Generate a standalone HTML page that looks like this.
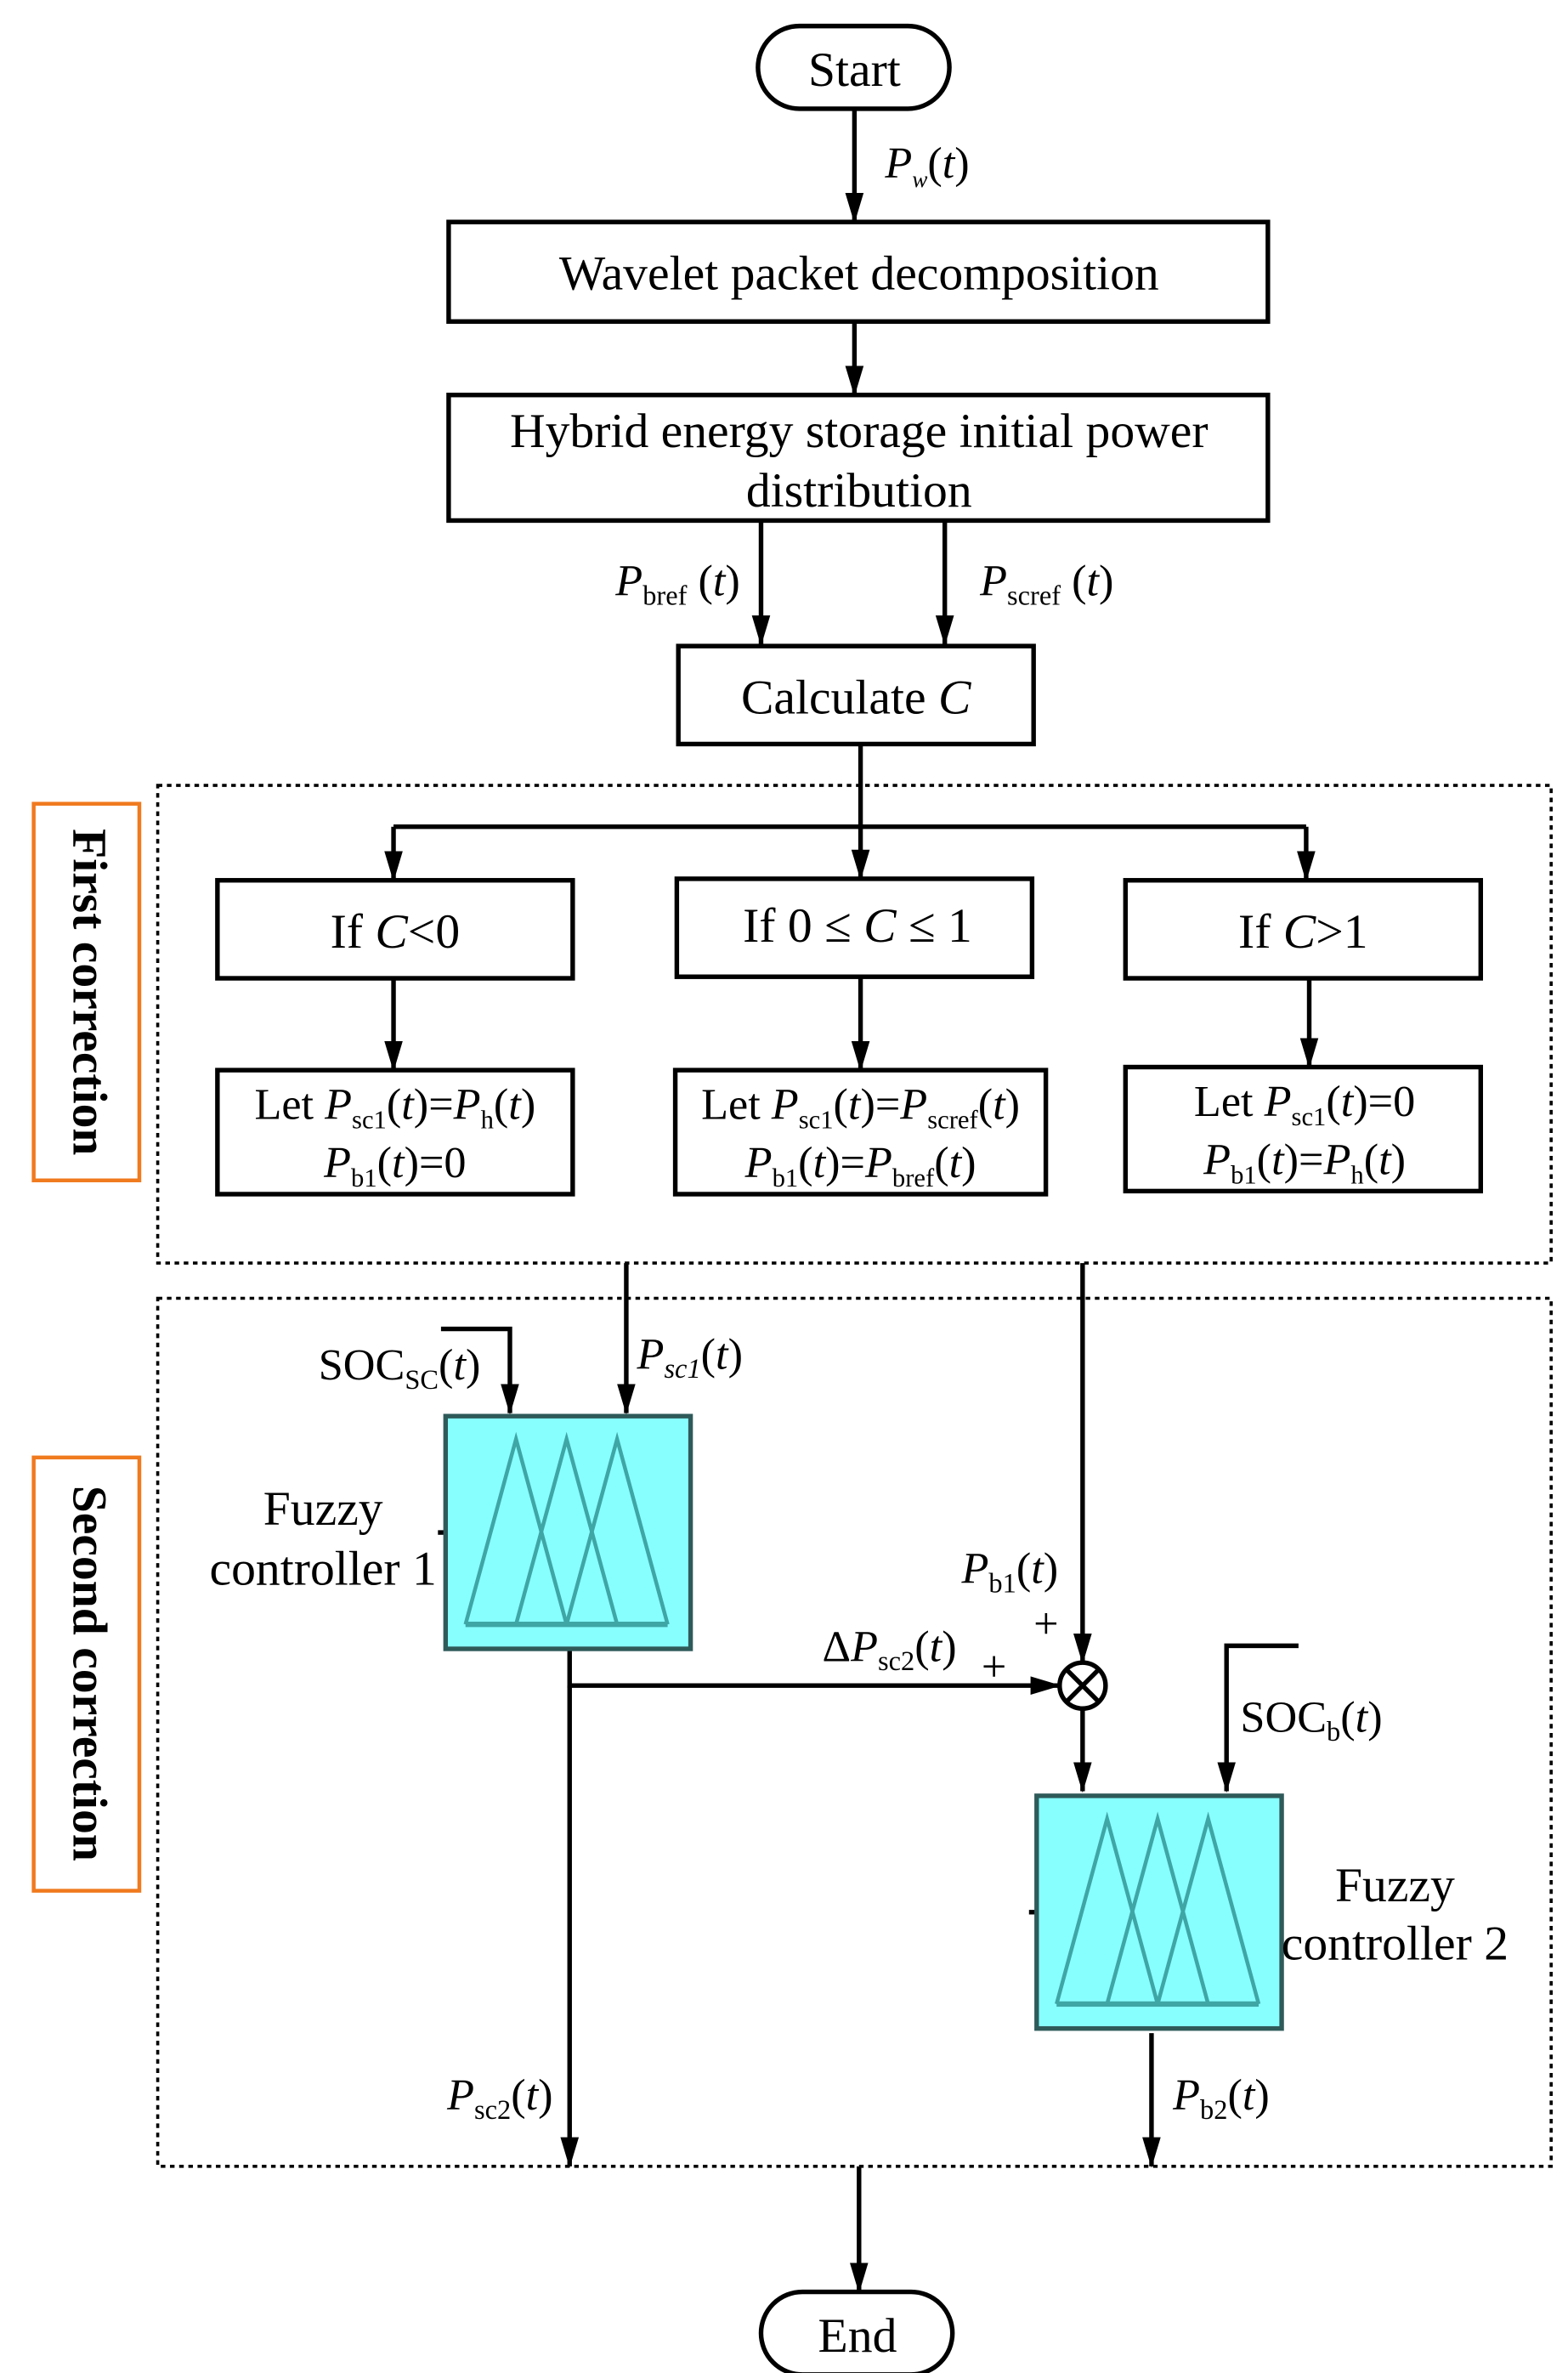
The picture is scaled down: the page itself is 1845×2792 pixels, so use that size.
<!DOCTYPE html>
<html><head><meta charset="utf-8"><style>html,body{margin:0;padding:0;background:#fff}svg{display:block}</style></head>
<body>
<svg width="1845" height="2792" viewBox="0 0 1024 1550" preserveAspectRatio="none" xmlns="http://www.w3.org/2000/svg" font-family="Liberation Serif, serif" font-size="32">
<defs>
<marker id="ab" markerWidth="20" markerHeight="20" refX="19" refY="6" orient="auto" markerUnits="userSpaceOnUse" viewBox="0 0 20 12"><path d="M0,0 L20,6 L0,12 Z" fill="#000"/></marker>
<g id="fz">
<rect x="0" y="0" width="160" height="152" fill="#88ffff" stroke="#2f5a5a" stroke-width="3"/>
<g fill="none" stroke="#3fa5a5" stroke-width="2.5">
<polyline points="13,136 46,15 79,136"/><polyline points="46,136 79,15 112,136"/><polyline points="79,136 112,15 145,136"/>
<line x1="13" y1="136" x2="145" y2="136" stroke-width="3.5"/>
</g>
</g>
</defs>
<g stroke="#000" stroke-width="3" fill="none">
<rect x="495" y="17" width="125" height="54" rx="27"/>
<rect x="497" y="1497" width="125" height="54" rx="27"/>
<rect x="293" y="145" width="535" height="65"/>
<rect x="293" y="258" width="535" height="82"/>
<rect x="443" y="422" width="232" height="64"/>
<rect x="142" y="575" width="232" height="64"/>
<rect x="442" y="574" width="232" height="64"/>
<rect x="735" y="575" width="232" height="64"/>
<rect x="142" y="699" width="232" height="81"/>
<rect x="441" y="699" width="242" height="81"/>
<rect x="735" y="697" width="232" height="81"/>
</g>
<g stroke="#000" stroke-width="2" fill="none" stroke-dasharray="3,3">
<rect x="103" y="513" width="910" height="312"/>
<rect x="103" y="848" width="910" height="567"/>
</g>
<g stroke="#f07a1e" stroke-width="2.5" fill="none">
<rect x="22" y="525" width="69" height="246"/>
<rect x="22" y="952" width="69" height="283"/>
</g>
<g stroke="#000" stroke-width="3" fill="none" marker-end="url(#ab)">
<line x1="558" y1="71" x2="558" y2="145"/>
<line x1="558" y1="210" x2="558" y2="258"/>
<line x1="497" y1="340" x2="497" y2="421"/>
<line x1="617" y1="340" x2="617" y2="421"/>
<line x1="257" y1="540" x2="257" y2="575"/>
<line x1="562" y1="540" x2="562" y2="574"/>
<line x1="853" y1="540" x2="853" y2="575"/>
<line x1="257" y1="639" x2="257" y2="699"/>
<line x1="562" y1="638" x2="562" y2="699"/>
<line x1="855" y1="639" x2="855" y2="697"/>
<line x1="409" y1="825" x2="409" y2="923"/>
<polyline points="288,868 333,868 333,923"/>
<line x1="707" y1="825" x2="707" y2="1086"/>
<polyline points="372,1078 372,1101 692,1101"/>
<line x1="372" y1="1101" x2="372" y2="1415"/>
<line x1="707" y1="1116" x2="707" y2="1170"/>
<polyline points="848,1075 801,1075 801,1170"/>
<line x1="752" y1="1328" x2="752" y2="1415"/>
<line x1="561" y1="1415" x2="561" y2="1497"/>
</g>
<g stroke="#000" stroke-width="3" fill="none">
<polyline points="562,486 562,540"/>
<line x1="257" y1="540" x2="853" y2="540"/>
<circle cx="707" cy="1101" r="15"/>
<line x1="696" y1="1090" x2="718" y2="1112"/><line x1="718" y1="1090" x2="696" y2="1112"/>
<line x1="286" y1="1001" x2="291" y2="1001"/>
<line x1="672" y1="1249" x2="677" y2="1249"/>
</g>
<use href="#fz" x="291" y="925"/>
<use href="#fz" x="677" y="1173"/>
<g text-anchor="middle" fill="#000">
<text x="558" y="56">Start</text>
<text x="560" y="1536">End</text>
<text x="561" y="189">Wavelet packet decomposition</text>
<text x="561" y="292">Hybrid energy storage initial power</text>
<text x="561" y="331">distribution</text>
<text x="559" y="466">Calculate <tspan font-style="italic">C</tspan></text>
<text x="258" y="619">If <tspan font-style="italic">C</tspan>&lt;0</text>
<text x="560" y="615">If 0 ≤ <tspan font-style="italic">C</tspan> ≤ 1</text>
<text x="851" y="619">If <tspan font-style="italic">C</tspan>&gt;1</text>
<text x="258" y="731" font-size="29">Let <tspan font-style="italic">P</tspan><tspan font-size="17" dy="6">sc1</tspan><tspan dy="-6">(</tspan><tspan font-style="italic">t</tspan>)=<tspan font-style="italic">P</tspan><tspan font-size="17" dy="6">h</tspan><tspan dy="-6">(</tspan><tspan font-style="italic">t</tspan>)</text>
<text x="258" y="769" font-size="29"><tspan font-style="italic">P</tspan><tspan font-size="17" dy="6">b1</tspan><tspan dy="-6">(</tspan><tspan font-style="italic">t</tspan>)=0</text>
<text x="562" y="731" font-size="29">Let <tspan font-style="italic">P</tspan><tspan font-size="17" dy="6">sc1</tspan><tspan dy="-6">(</tspan><tspan font-style="italic">t</tspan>)=<tspan font-style="italic">P</tspan><tspan font-size="17" dy="6">scref</tspan><tspan dy="-6">(</tspan><tspan font-style="italic">t</tspan>)</text>
<text x="562" y="769" font-size="29"><tspan font-style="italic">P</tspan><tspan font-size="17" dy="6">b1</tspan><tspan dy="-6">(</tspan><tspan font-style="italic">t</tspan>)=<tspan font-style="italic">P</tspan><tspan font-size="17" dy="6">bref</tspan><tspan dy="-6">(</tspan><tspan font-style="italic">t</tspan>)</text>
<text x="852" y="729" font-size="29">Let <tspan font-style="italic">P</tspan><tspan font-size="17" dy="6">sc1</tspan><tspan dy="-6">(</tspan><tspan font-style="italic">t</tspan>)=0</text>
<text x="852" y="767" font-size="29"><tspan font-style="italic">P</tspan><tspan font-size="17" dy="6">b1</tspan><tspan dy="-6">(</tspan><tspan font-style="italic">t</tspan>)=<tspan font-style="italic">P</tspan><tspan font-size="17" dy="6">h</tspan><tspan dy="-6">(</tspan><tspan font-style="italic">t</tspan>)</text>
<text x="211" y="996">Fuzzy</text>
<text x="211" y="1035">controller 1</text>
<text x="911" y="1242">Fuzzy</text>
<text x="911" y="1280">controller 2</text>
</g>
<g fill="#000" font-size="29">
<text x="578" y="116"><tspan font-style="italic">P</tspan><tspan font-size="15" dy="6" font-style="italic">w</tspan><tspan dy="-6">(</tspan><tspan font-style="italic">t</tspan>)</text>
<text x="402" y="389"><tspan font-style="italic">P</tspan><tspan font-size="18" dy="6">bref</tspan><tspan dy="-6"> (</tspan><tspan font-style="italic">t</tspan>)</text>
<text x="640" y="389"><tspan font-style="italic">P</tspan><tspan font-size="18" dy="6">scref</tspan><tspan dy="-6"> (</tspan><tspan font-style="italic">t</tspan>)</text>
<text x="208" y="901">SOC<tspan font-size="18" dy="6">SC</tspan><tspan dy="-6">(</tspan><tspan font-style="italic">t</tspan>)</text>
<text x="416" y="894"><tspan font-style="italic">P</tspan><tspan font-size="18" dy="6" font-style="italic">sc1</tspan><tspan dy="-6">(</tspan><tspan font-style="italic">t</tspan>)</text>
<text x="628" y="1034"><tspan font-style="italic">P</tspan><tspan font-size="18" dy="6">b1</tspan><tspan dy="-6">(</tspan><tspan font-style="italic">t</tspan>)</text>
<text x="675" y="1070">+</text>
<text x="537" y="1085">Δ<tspan font-style="italic">P</tspan><tspan font-size="18" dy="6">sc2</tspan><tspan dy="-6">(</tspan><tspan font-style="italic">t</tspan>)</text>
<text x="641" y="1098">+</text>
<text x="810" y="1131">SOC<tspan font-size="18" dy="6">b</tspan><tspan dy="-6">(</tspan><tspan font-style="italic">t</tspan>)</text>
<text x="292" y="1378"><tspan font-style="italic">P</tspan><tspan font-size="18" dy="6">sc2</tspan><tspan dy="-6">(</tspan><tspan font-style="italic">t</tspan>)</text>
<text x="766" y="1378"><tspan font-style="italic">P</tspan><tspan font-size="18" dy="6">b2</tspan><tspan dy="-6">(</tspan><tspan font-style="italic">t</tspan>)</text>
</g>
<g fill="#000" font-weight="bold" font-size="32" text-anchor="middle">
<text transform="translate(48,648) rotate(90)">First correction</text>
<text transform="translate(48,1093) rotate(90)">Second correction</text>
</g>
</svg>
</body></html>
